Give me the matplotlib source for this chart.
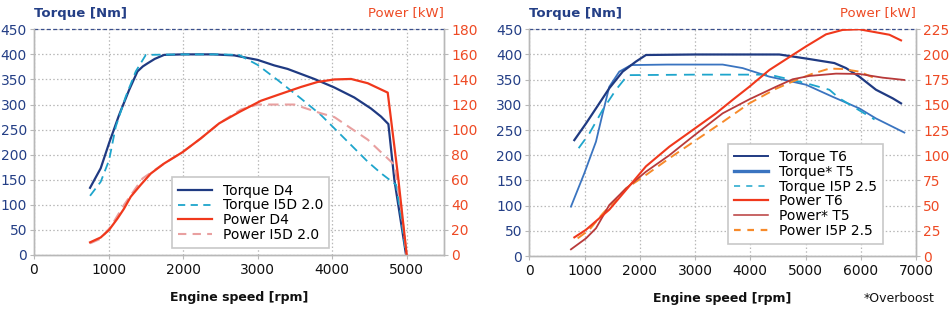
import matplotlib
matplotlib.use("Agg")
import matplotlib.pyplot as plt
from matplotlib.lines import Line2D

# ---------------- Left chart data (D4 / I5D 2.0) ----------------
d4_rpm = [752, 895, 1007, 1141, 1276, 1388, 1460, 1522, 1620, 1746, 2000, 2400, 2686, 3000, 3223, 3402, 3760, 4029, 4297, 4521, 4655, 4754, 4834, 4991]
d4_torque = [134, 173, 223, 279, 329, 366, 376, 382, 391, 399, 400, 400, 398, 389, 378, 371, 351, 334, 314, 292, 276, 261, 150, 0]

i5d_rpm = [752, 895, 1007, 1097, 1231, 1365, 1500, 2000, 2500, 2750, 3000, 3267, 3581, 3850, 4208, 4477, 4655, 4857, 4924, 4991]
i5d_torque = [118, 146, 189, 256, 316, 366, 399, 400, 400, 399, 379, 349, 312, 279, 226, 186, 163, 140, 76, 0]

d4p_rpm = [752, 895, 1007, 1119, 1208, 1298, 1432, 1567, 1746, 1992, 2238, 2484, 2753, 3044, 3267, 3581, 3805, 4029, 4253, 4477, 4745, 4879, 5000]
d4_power = [10.1, 14, 20, 29, 37, 46.5, 56, 65, 73, 82, 93, 105, 114, 123, 127.6, 134, 138, 140, 140.4, 137, 129.5, 65, 0]

i5dp_rpm = [752, 895, 1030, 1208, 1455, 1746, 1992, 2238, 2484, 2775, 3000, 3491, 3850, 4029, 4253, 4477, 4655, 4834, 4924, 5000]
i5d_power = [9.3, 13, 22.6, 40, 61, 73, 82, 93, 105, 116, 120, 120, 113, 110, 101, 92, 82, 72, 38.5, 0]

# ---------------- Right chart data (T6 / T5 / I5P 2.5) ----------------
t6_rpm = [815, 1026, 1207, 1448, 1690, 1931, 2112, 3000, 4000, 4526, 5009, 5522, 5733, 5974, 6276, 6578, 6729]
t6_torque = [230, 263, 293, 333, 366, 386, 399, 400, 400, 400, 392, 383, 373, 356, 330, 313, 303]

t5_rpm = [754, 995, 1207, 1328, 1448, 1629, 1841, 2500, 3500, 3862, 4345, 5009, 5492, 5974, 6276, 6789]
t5_torque = [98, 164, 227, 283, 336, 366, 379, 380, 380, 373, 356, 340, 316, 293, 273, 245]

i5p_rpm = [893, 1086, 1328, 1569, 1781, 3000, 4345, 5009, 5432, 5613, 5914, 6250]
i5p_torque = [214, 243, 290, 330, 359, 360, 360, 343, 330, 313, 293, 271]

t6p_rpm = [815, 1026, 1448, 1750, 2112, 2535, 2957, 3380, 3681, 3983, 4345, 4767, 5009, 5371, 5673, 5974, 6276, 6518, 6729]
t6_power = [18.5, 26, 46, 65.5, 89, 108.5, 125, 141.6, 155, 168, 184.6, 199.5, 208, 220, 224.4, 225, 222, 219.6, 214]

t5p_rpm = [754, 1026, 1207, 1448, 1750, 2112, 2535, 2957, 3500, 3983, 4466, 4767, 5069, 5552, 5974, 6397, 6789]
t5_power = [6.6, 17.5, 27.5, 50.6, 67, 83.7, 100, 118.5, 141.6, 155.5, 168, 175.4, 178.7, 181, 180.7, 177, 174.7]

i5pp_rpm = [875, 1086, 1328, 1750, 2112, 2535, 3018, 3500, 3983, 4466, 4828, 5130, 5432, 5673, 5974, 6276]
i5p_power = [17.5, 26, 42, 67, 80.4, 97, 115, 133, 151.5, 166, 174.6, 181, 186, 185.6, 183, 176]

left_torque_ticks = [0, 50, 100, 150, 200, 250, 300, 350, 400, 450]
left_power_ticks = [0, 20, 40, 60, 80, 100, 120, 140, 160, 180]
right_power_ticks = [0, 25, 50, 75, 100, 125, 150, 175, 200, 225]
left_x_ticks = [0, 1000, 2000, 3000, 4000, 5000]
right_x_ticks = [0, 1000, 2000, 3000, 4000, 5000, 6000, 7000]

NAVY = "#1f3a82"
BLUE = "#3a74c0"
CYAN = "#1ea5cc"
RED = "#f0381c"
PINK = "#e9a0a0"
BROWN = "#b83a3a"
ORANGE = "#f78a2a"
TXT_NAVY = "#243f86"
TXT_RED = "#ee4a24"
GRID = "#b8b8b8"

plt.rcParams['font.family'] = ['DejaVu Sans']

fig = plt.figure(figsize=(9.51, 3.24), dpi=100)


def setup(ax, ax2, xmax, xticks, pticks):
    ax.set_xlim(0, xmax)
    ax.set_ylim(0, 450)
    ax.set_xticks(xticks)
    ax.set_yticks(left_torque_ticks)
    ax2.set_ylim(0, pticks[-1])
    ax2.set_yticks(pticks)
    ax.grid(True, color=GRID, linestyle=(0, (1.2, 1.8)), linewidth=0.9)
    ax.tick_params(axis='y', colors=TXT_NAVY, labelsize=10, length=3, width=0.8, pad=2)
    ax.tick_params(axis='x', colors="#111111", labelsize=10, length=3, width=0.8, pad=3)
    ax.tick_params(axis='y', color=GRID)
    ax.tick_params(axis='x', color=GRID)
    ax2.tick_params(axis='y', colors=TXT_RED, labelsize=10, length=3, width=0.8, pad=2)
    ax2.tick_params(axis='y', color=GRID)
    for a in (ax, ax2):
        for s in ('left', 'right', 'bottom'):
            a.spines[s].set_color(GRID)
            a.spines[s].set_linewidth(1.0)
        a.spines['top'].set_visible(False)
    ax.axhline(450, color="#3a4f8c", linestyle=(0, (3, 2)), linewidth=0.9, clip_on=False, zorder=5)
    ax.set_xlabel("Engine speed [rpm]", fontsize=9, fontweight='bold', color="#111111", labelpad=10)


# ---------------- Left chart ----------------
ax = fig.add_axes([34 / 951, 69 / 324, 410 / 951, 225.7 / 324])
ax2 = ax.twinx()
setup(ax, ax2, 5500, left_x_ticks, left_power_ticks)
ax.plot(d4_rpm, d4_torque, color=NAVY, lw=1.6, label="Torque D4")
ax.plot(i5d_rpm, i5d_torque, color=CYAN, lw=1.3, linestyle=(0, (5, 3)), label="Torque I5D 2.0")
ax2.plot(i5dp_rpm, i5d_power, color=PINK, lw=1.5, linestyle=(0, (5, 3)), label="Power I5D 2.0")
ax2.plot(d4p_rpm, d4_power, color=RED, lw=1.6, label="Power D4")
handles = [Line2D([], [], color=NAVY, lw=1.6),
           Line2D([], [], color=CYAN, lw=1.3, linestyle=(0, (4, 3))),
           Line2D([], [], color=RED, lw=1.6),
           Line2D([], [], color=PINK, lw=1.5, linestyle=(0, (4, 3)))]
labels = ["Torque D4", "Torque I5D 2.0", "Power D4", "Power I5D 2.0"]
leg = ax2.legend(handles, labels, loc='lower left', bbox_to_anchor=(0.337, 0.031), fontsize=10,
                 frameon=True, fancybox=False, edgecolor="#c8c8c8", framealpha=1,
                 handlelength=2.4, labelspacing=0.05, borderpad=0.45, handletextpad=0.8,
                 borderaxespad=0)
leg.get_frame().set_linewidth(1.2)
fig.text(34 / 951, 311 / 324, "Torque [Nm]", fontsize=9.5, fontweight='bold', color=TXT_NAVY, ha='left', va='center')
fig.text(444 / 951, 311 / 324, "Power [kW]", fontsize=9.5, color=TXT_RED, ha='right', va='center')

# ---------------- Right chart ----------------
bx = fig.add_axes([529.3 / 951, 68 / 324, 386.7 / 951, 226.7 / 324])
bx2 = bx.twinx()
setup(bx, bx2, 7000, right_x_ticks, right_power_ticks)
bx.plot(t5_rpm, t5_torque, color=BLUE, lw=1.3, label="Torque* T5")
bx.plot(t6_rpm, t6_torque, color=NAVY, lw=1.6, label="Torque T6")
bx.plot(i5p_rpm, i5p_torque, color=CYAN, lw=1.3, linestyle=(0, (6, 4)), label="Torque I5P 2.5")
bx2.plot(i5pp_rpm, i5p_power, color=ORANGE, lw=1.4, linestyle=(0, (5, 3)), label="Power I5P 2.5")
bx2.plot(t5p_rpm, t5_power, color=BROWN, lw=1.3, label="Power* T5")
bx2.plot(t6p_rpm, t6_power, color=RED, lw=1.5, label="Power T6")
handles = [Line2D([], [], color=NAVY, lw=1.4),
           Line2D([], [], color=BLUE, lw=2.4),
           Line2D([], [], color=CYAN, lw=1.1, linestyle=(0, (4, 4))),
           Line2D([], [], color=RED, lw=1.6),
           Line2D([], [], color=BROWN, lw=1.1),
           Line2D([], [], color=ORANGE, lw=1.6, linestyle=(0, (3, 3)))]
labels = ["Torque T6", "Torque* T5", "Torque I5P 2.5", "Power T6", "Power* T5", "Power I5P 2.5"]
leg = bx2.legend(handles, labels, loc='lower left', bbox_to_anchor=(0.514, 0.053), fontsize=10,
                 frameon=True, fancybox=False, edgecolor="#c8c8c8", framealpha=1,
                 handlelength=2.4, labelspacing=0.05, borderpad=0.45, handletextpad=0.8,
                 borderaxespad=0)
leg.get_frame().set_linewidth(1.2)
fig.text(529 / 951, 311 / 324, "Torque [Nm]", fontsize=9.5, fontweight='bold', color=TXT_NAVY, ha='left', va='center')
fig.text(916 / 951, 311 / 324, "Power [kW]", fontsize=9.5, color=TXT_RED, ha='right', va='center')
fig.text(935 / 951, 26 / 324, "*Overboost", fontsize=9, color="#111111", ha='right', va='center')

fig.savefig("out.png", dpi=100)
